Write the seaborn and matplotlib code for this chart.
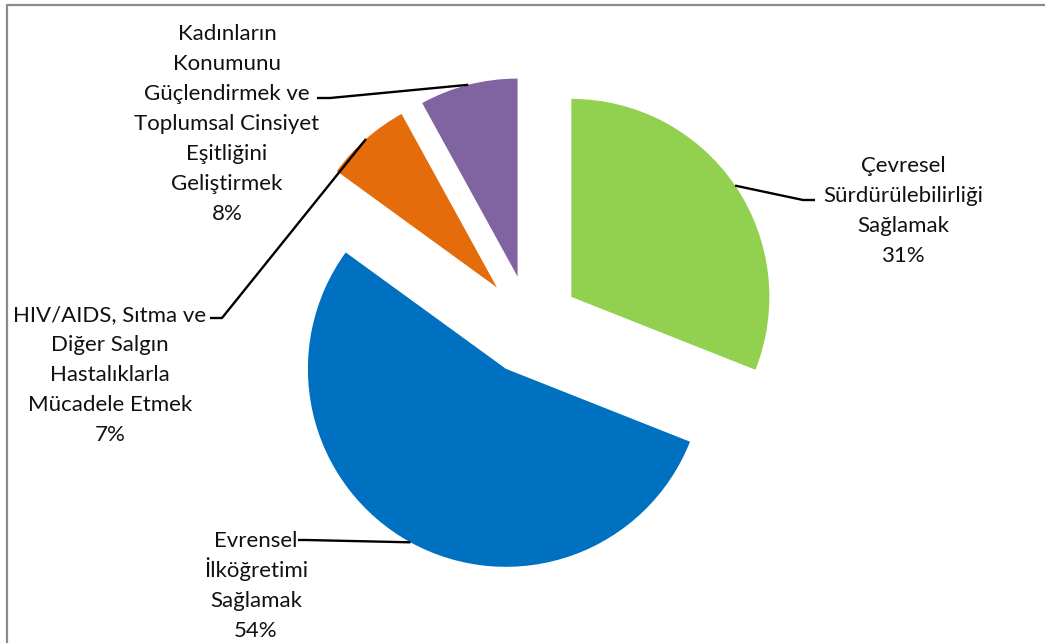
import numpy as np
import matplotlib
matplotlib.use("Agg")
import matplotlib.pyplot as plt
import seaborn as sns

# Share of each goal (percent)
categories = [
    "Çevresel\nSürdürülebilirliği\nSağlamak",
    "Evrensel\nİlköğretimi\nSağlamak",
    "HIV/AIDS, Sıtma ve\nDiğer Salgın\nHastalıklarla\nMücadele Etmek",
    "Kadınların\nKonumunu\nGüçlendirmek ve\nToplumsal Cinsiyet\nEşitliğini\nGeliştirmek",
]
values = [31, 54, 7, 8]
colors = ["#92D050", "#0070C0", "#E46C0A", "#8064A2"]

sns.set_theme(style="white")
plt.rcParams["font.family"] = ["Lato", "DejaVu Sans"]

W, H = 1045, 643
fig = plt.figure(figsize=(W / 100, H / 100), dpi=100)
ax = fig.add_axes([0, 0, 1, 1])

# pixel-like data space, y measured from the top
def Y(y):
    return H - y

radius = 198
offset = 50
wedges, _ = ax.pie(
    values,
    colors=sns.color_palette(colors),
    startangle=90,
    counterclock=False,
    radius=radius,
    center=(530, Y(325)),
    explode=[offset] * len(values),
    frame=True,
    wedgeprops=dict(linewidth=0),
)
ax.set_xlim(0, W)
ax.set_ylim(0, H)
ax.set_aspect("equal")
ax.axis("off")

# label block centre (x, y from top), elbow point next to text, text-side end of leader
label_layout = [
    dict(pos=(903, 209), elbow=(803, 200), end=(815, 200)),
    dict(pos=(256, 584), elbow=(306, 540), end=(298, 540)),
    dict(pos=(110, 373), elbow=(222, 318), end=(210, 318)),
    dict(pos=(227, 122), elbow=(330, 98), end=(317, 98)),
]
line_step = 30      # px between consecutive label lines
cap_half = 8        # half the cap height, to sit lines on their baseline

text_color = "#111111"
for w, cat, val, lay in zip(wedges, categories, values, label_layout):
    mid = np.deg2rad(0.5 * (w.theta1 + w.theta2))
    cx, cy = w.center
    ax_pt = (cx + w.r * np.cos(mid), cy + w.r * np.sin(mid))
    ex, ey = lay["elbow"]
    tx, ty = lay["end"]
    ax.plot([ax_pt[0], ex, tx], [ax_pt[1], Y(ey), Y(ty)],
            color="black", lw=1.7, solid_capstyle="butt", zorder=3)
    px, py = lay["pos"]
    lines = cat.split("\n") + [f"{val}%"]
    n = len(lines)
    for i, line in enumerate(lines):
        ly = py + (i - (n - 1) / 2) * line_step + cap_half
        ax.text(px, Y(ly), line, ha="center", va="baseline",
                fontsize=16, color=text_color, zorder=4)

# outer frame (top and left edges visible)
fig.add_artist(plt.Line2D([7 / W, 1], [1 - 5 / H, 1 - 5 / H],
                          transform=fig.transFigure, color="#8c8c8c", lw=1.6))
fig.add_artist(plt.Line2D([7 / W, 7 / W], [0, 1 - 5 / H],
                          transform=fig.transFigure, color="#8c8c8c", lw=1.6))

fig.savefig("out.png", dpi=100, facecolor="white")
